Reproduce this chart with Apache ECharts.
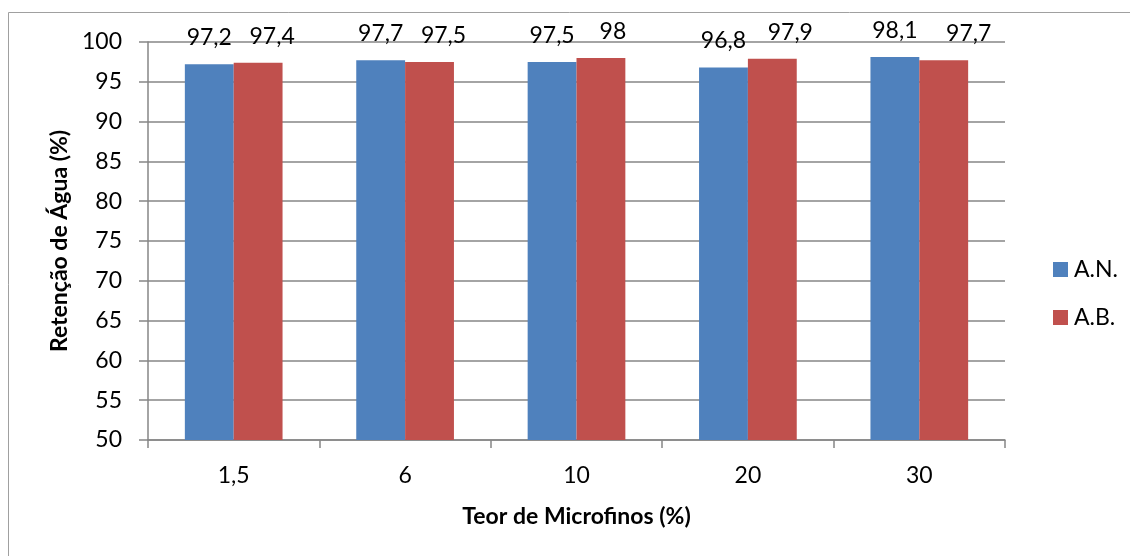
<!DOCTYPE html>
<html>
<head>
<meta charset="utf-8">
<script src="https://cdn.jsdelivr.net/npm/echarts@6/dist/echarts.min.js"></script>
<style>html,body{margin:0;padding:0;background:#fff}#c{width:1130px;height:556px}</style>
</head>
<body>
<div id="c"></div>
<script>
const categories = ['1,5', '6', '10', '20', '30'];
const seriesAN = [97.2, 97.7, 97.5, 96.8, 98.1];
const seriesAB = [97.4, 97.5, 98, 97.9, 97.7];
const seriesNames = ['A.N.', 'A.B.'];
const yTicks = { min: 50, max: 100, interval: 5 };

// label placement tweak (style only): horizontal nudge of A.B. value labels, px
const abLabelNudge = [14, 14, 12, 18, 25];

const FONT = 'Lato, Carlito, "Open Sans", sans-serif';
const chart = echarts.init(document.getElementById('c'), null, { renderer: 'canvas' });
const fmt = p => String(p.value).replace('.', ',');
const labelCfg = { show: true, position: 'top', distance: 15, color: '#000', fontFamily: FONT, fontSize: 23, formatter: fmt };
chart.setOption({
  animation: false,
  backgroundColor: '#fff',
  graphic: [
    { type: 'line', shape: { x1: 8.5, y1: 12.5, x2: 1130, y2: 12.5 }, style: { stroke: '#a0a0a0', lineWidth: 1 } },
    { type: 'line', shape: { x1: 8.5, y1: 12.5, x2: 8.5, y2: 556 }, style: { stroke: '#a0a0a0', lineWidth: 1 } }
  ],
  grid: { left: 148, right: 125, top: 42, bottom: 116, containLabel: false },
  legend: {
    orient: 'vertical', left: 1048, top: 253,
    itemWidth: 15, itemHeight: 15, itemGap: 25, icon: 'rect',
    textStyle: { fontFamily: FONT, fontSize: 23, color: '#000', padding: [0, 0, 0, 1] },
    data: seriesNames
  },
  xAxis: {
    type: 'category', data: categories,
    name: 'Teor de Microfinos (%)', nameLocation: 'middle', nameGap: 65,
    nameTextStyle: { fontFamily: FONT, fontSize: 23, fontWeight: 'bold', color: '#000' },
    axisLine: { lineStyle: { color: '#868686', width: 1.5 } },
    axisTick: { show: true, length: 8, lineStyle: { color: '#868686', width: 1.5 } },
    axisLabel: { fontFamily: FONT, fontSize: 23, color: '#000', margin: 24 }
  },
  yAxis: {
    type: 'value', min: yTicks.min, max: yTicks.max, interval: yTicks.interval,
    name: 'Retenção de Água (%)', nameLocation: 'middle', nameGap: 77,
    nameTextStyle: { fontFamily: FONT, fontSize: 23, fontWeight: 'bold', color: '#000' },
    axisLine: { show: true, lineStyle: { color: '#868686', width: 1.5 } },
    axisTick: { show: true, length: 9, lineStyle: { color: '#868686', width: 1.5 } },
    splitLine: { show: true, lineStyle: { color: '#868686', width: 1.5 } },
    axisLabel: { fontFamily: FONT, fontSize: 23, color: '#000', margin: 26 }
  },
  series: [
    { name: seriesNames[0], type: 'bar', data: seriesAN, barGap: '0%', barCategoryGap: '43%',
      itemStyle: { color: '#4F81BD' }, label: labelCfg },
    { name: seriesNames[1], type: 'bar',
      data: seriesAB.map((v, i) => ({ value: v, label: { offset: [abLabelNudge[i], 0] } })),
      itemStyle: { color: '#C0504D' }, label: labelCfg }
  ]
});
</script>
</body>
</html>
